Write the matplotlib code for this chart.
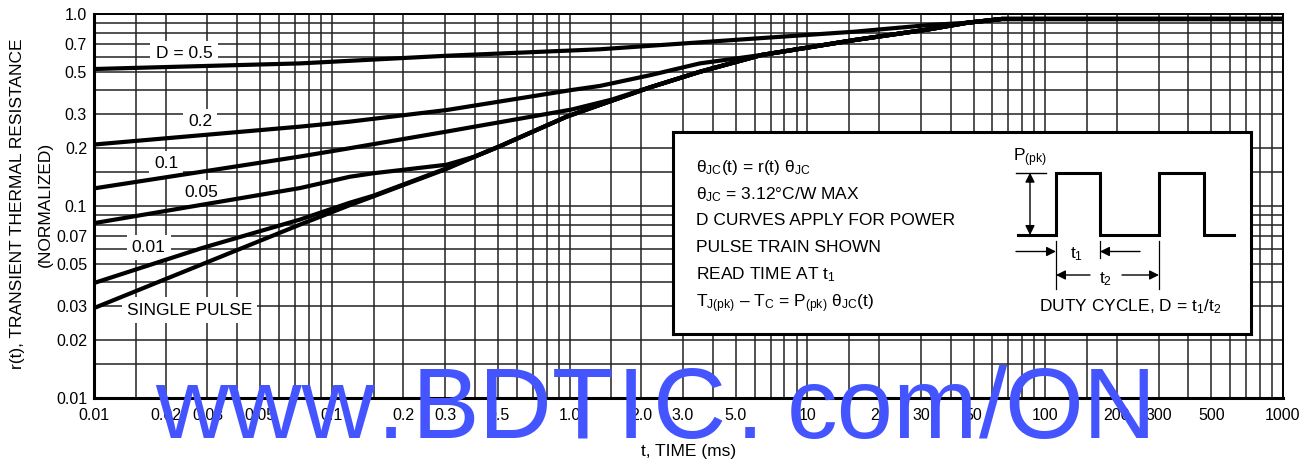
import matplotlib
matplotlib.use("Agg")
import matplotlib.pyplot as plt
from matplotlib import font_manager
from matplotlib.ticker import NullFormatter

# transient thermal response (t in ms)
mid_t = [0.4, 0.51]
mid_r = [0.181, 0.205]
tail_t = [0.972, 1.34, 2.18, 3.53, 6.43, 15.8, 32.4, 46.9, 65.6, 1000]
tail_r = [0.292, 0.336, 0.415, 0.50, 0.612, 0.732, 0.832, 0.90, 0.942, 0.942]

t_d05 = [0.01, 0.0735, 0.3035, 1.34, 2.18, 3.53, 15.8, 32.4] + tail_t[7:]
r_d05 = [0.517, 0.553, 0.606, 0.655, 0.683, 0.712, 0.809, 0.876] + tail_r[7:]

t_d02 = [0.01, 0.0735, 0.119, 0.3035, 1.02, 1.34, 2.18, 3.53] + tail_t[4:]
r_d02 = [0.209, 0.259, 0.275, 0.316, 0.402, 0.422, 0.48, 0.553] + tail_r[4:]

t_d01 = [0.01, 0.0735, 0.119, 0.3035, 1.02, 1.5] + tail_t[2:]
r_d01 = [0.1235, 0.181, 0.2, 0.244, 0.318, 0.358] + tail_r[2:]

t_d005 = [0.01, 0.0735, 0.119, 0.149, 0.3035] + mid_t + tail_t
r_d005 = [0.0814, 0.124, 0.142, 0.148, 0.164] + mid_r + tail_r

t_d001 = [0.01, 0.0287, 0.0735, 0.119, 0.149, 0.3035] + mid_t + tail_t
r_d001 = [0.0397, 0.0606, 0.085, 0.104, 0.113, 0.157] + mid_r + tail_r

t_single = [0.01, 0.0735, 0.119, 0.149, 0.3035] + mid_t + tail_t
r_single = [0.0294, 0.080, 0.101, 0.112, 0.156] + mid_r + tail_r

curve_labels = ["D = 0.5", "0.2", "0.1", "0.05", "0.01", "SINGLE PULSE"]
label_t = [0.0239, 0.0279, 0.0201, 0.0282, 0.0170, 0.0252]
label_r = [0.623, 0.275, 0.1655, 0.1175, 0.0608, 0.0287]

x_ticks = [0.01, 0.02, 0.03, 0.05, 0.1, 0.2, 0.3, 0.5, 1, 2, 3, 5, 10, 20, 30, 50, 100, 200, 300, 500, 1000]
x_ticklabels = ["0.01", "0.02", "0.03", "0.05", "0.1", "0.2", "0.3", "0.5", "1.0", "2.0", "3.0", "5.0",
                "10", "20", "30", "50", "100", "200", "300", "500", "1000"]
y_ticks = [0.01, 0.02, 0.03, 0.05, 0.07, 0.1, 0.2, 0.3, 0.5, 0.7, 1.0]
y_ticklabels = ["0.01", "0.02", "0.03", "0.05", "0.07", "0.1", "0.2", "0.3", "0.5", "0.7", "1.0"]

grid_subs = [1, 1.5, 2, 3, 4, 5, 6, 7, 8, 9]

plt.rcParams['font.family'] = ['Liberation Sans', 'DejaVu Sans']
plt.rcParams['mathtext.fontset'] = 'custom'
plt.rcParams['mathtext.rm'] = 'Liberation Sans'
plt.rcParams['mathtext.it'] = 'Liberation Sans:italic'
plt.rcParams['mathtext.bf'] = 'Liberation Sans:bold'

W, H = 1315, 459
fig = plt.figure(figsize=(W / 100, H / 100), dpi=100)
ax = fig.add_axes([94 / W, 1 - 398 / H, (1283 - 94) / W, (398 - 14) / H])
ax.set_xscale('log')
ax.set_yscale('log')
ax.set_xlim(0.01, 1000)
ax.set_ylim(0.01, 1.0)

gx = [m * 10.0 ** e for e in range(-2, 3) for m in grid_subs] + [1000]
gy = [m * 10.0 ** e for e in range(-2, 0) for m in grid_subs] + [1.0]
ax.set_xticks(gx, minor=True)
ax.set_yticks(gy, minor=True)
ax.xaxis.set_minor_formatter(NullFormatter())
ax.yaxis.set_minor_formatter(NullFormatter())
ax.set_xticks(x_ticks, x_ticklabels)
ax.set_yticks(y_ticks, y_ticklabels)
ax.tick_params(which='both', length=0, labelsize=11.5)
ax.tick_params(axis='x', pad=7)
ax.tick_params(axis='y', pad=5)
ax.grid(which='both', color='#222222', lw=1.1, zorder=0)
ax.set_axisbelow(True)
for side in ['left', 'bottom']:
    ax.spines[side].set_linewidth(2.2)
for side in ['top', 'right']:
    ax.spines[side].set_linewidth(1.4)

for tt, rr in [(t_d05, r_d05), (t_d02, r_d02), (t_d01, r_d01), (t_d005, r_d005),
               (t_d001, r_d001), (t_single, r_single)]:
    ax.plot(tt, rr, color='black', lw=3.0, solid_capstyle='butt', solid_joinstyle='round', zorder=4)

for s, lt, lr in zip(curve_labels, label_t, label_r):
    ax.text(lt, lr, s, fontsize=12.5, ha='center', va='center', zorder=3,
            bbox=dict(boxstyle='square,pad=0.3', facecolor='white', edgecolor='none'))

ax.set_xlabel("t, TIME (ms)", fontsize=12.5, labelpad=15)
fig.text(18 / W, 1 - 204 / H, "r(t), TRANSIENT THERMAL RESISTANCE", rotation=90,
         ha='center', va='center', fontsize=12.5)
fig.text(45 / W, 1 - 204 / H, "(NORMALIZED)", rotation=90, ha='center', va='center', fontsize=12.5)

# inset box with notes and pulse train sketch (pixel coordinates)
ins = fig.add_axes([673 / W, 1 - 334 / H, (1251 - 673) / W, (334 - 131.7) / H], zorder=5)
ins.set_xlim(673, 1251)
ins.set_ylim(334, 131.7)
ins.set_xticks([])
ins.set_yticks([])
ins.set_facecolor('white')
for sp in ins.spines.values():
    sp.set_linewidth(2.2)

notes = [r"θ$_{\mathrm{JC}}$(t) = r(t) θ$_{\mathrm{JC}}$",
         r"θ$_{\mathrm{JC}}$ = 3.12°C/W MAX",
         "D CURVES APPLY FOR POWER",
         "PULSE TRAIN SHOWN",
         r"READ TIME AT $\mathrm{t}_{1}$",
         r"T$_{\mathrm{J(pk)}}$ – T$_{\mathrm{C}}$ = P$_{\mathrm{(pk)}}$ θ$_{\mathrm{JC}}$(t)"]
note_y = [172, 199, 225, 252, 279.5, 307]
for s, yy in zip(notes, note_y):
    ins.text(696, yy, s, fontsize=12.5, ha='left', va='baseline')

pulse_x = [1018, 1056, 1056, 1100, 1100, 1159, 1159, 1204, 1204, 1234]
pulse_y = [235, 235, 172.7, 172.7, 235, 235, 172.7, 172.7, 235, 235]
ins.plot(pulse_x, pulse_y, color='black', lw=2.2, solid_joinstyle='miter')
ins.plot([1016, 1046], [172.7, 172.7], color='black', lw=1.0)
for xx, y0, y1 in [(1056, 241, 289), (1100, 241, 258), (1159, 241, 289)]:
    ins.plot([xx, xx], [y0, y1], color='black', lw=0.9)

arr = dict(arrowstyle='-|>', color='black', lw=1.0, mutation_scale=14, shrinkA=0, shrinkB=0)
ins.annotate('', xy=(1030, 172.7), xytext=(1030, 235),
             arrowprops=dict(arr, arrowstyle='<|-|>'))
ins.annotate('', xy=(1056, 251.5), xytext=(1016, 251.5), arrowprops=arr)
ins.annotate('', xy=(1100, 251.5), xytext=(1140, 251.5), arrowprops=arr)
ins.annotate('', xy=(1056, 275), xytext=(1090, 275), arrowprops=arr)
ins.annotate('', xy=(1159, 275), xytext=(1122, 275), arrowprops=arr)
ins.text(1077, 258, r"$\mathrm{t}_{1}$", fontsize=12.5, ha='center', va='baseline')
ins.text(1106, 283, r"$\mathrm{t}_{2}$", fontsize=12.5, ha='center', va='baseline')
ins.text(1030, 161.5, r"P$_{\mathrm{(pk)}}$", fontsize=12.5, ha='center', va='baseline')
ins.text(1130, 311.5, r"DUTY CYCLE, D = $\mathrm{t}_{1}$/$\mathrm{t}_{2}$", fontsize=12.5,
         ha='center', va='baseline')

# blue watermark across the bottom
wm_prop = font_manager.FontProperties(family='Liberation Sans', size=73)
wm_parts = ["www", ".", "BDT", "I", "C", ".", "com", "/", "ON"]
wm_x = [265, 391, 513, 631, 689, 750, 882, 993, 1080]
for s, xx in zip(wm_parts, wm_x):
    fig.text(xx / W, 1 - 438 / H, s, fontproperties=wm_prop, color='#4455ff',
             ha='center', va='baseline', zorder=20)

fig.savefig('out.png', dpi=100)
